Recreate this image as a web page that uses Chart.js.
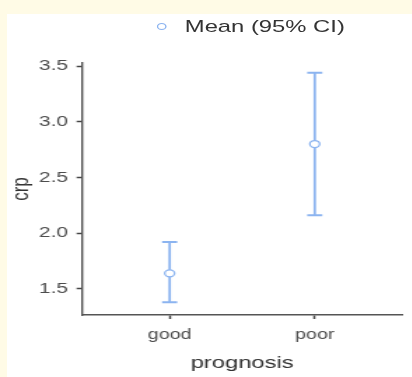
<!DOCTYPE html>
<html>
<head>
<meta charset="utf-8">
<script src="https://cdn.jsdelivr.net/npm/chart.js@4"></script>
<style>
  html, body { margin: 0; padding: 0; background: #fffbe6; }
  #frame { position: absolute; left: 7px; top: 14px; width: 405px; height: 363px; background: #fff; overflow: hidden; }
  /* the source plot is stretched sideways, so draw narrow and widen it */
  #stretch { position: absolute; left: 0; top: 0; width: 289px; height: 363px; transform: scaleX(1.4); transform-origin: 0 0; }
  #legend { position: absolute; left: 107px; top: 3px; font: 17px 'Liberation Sans', Arial, sans-serif; color: #333; white-space: nowrap; }
  #legend .dot { display: inline-block; width: 5px; height: 5px; border: 1.3px solid #8cb4f0; border-radius: 50%; margin-right: 13px; vertical-align: 2px; }
</style>
</head>
<body>
<div id="frame">
  <div id="stretch">
    <canvas id="chart" width="289" height="363"></canvas>
    <div id="legend"><span class="dot"></span>Mean (95% CI)</div>
  </div>
</div>
<script>
const categories = ['good', 'poor'];
const means = [1.64, 2.80];
const lower = [1.38, 2.16];
const upper = [1.92, 3.44];
const yTicks = [1.5, 2.0, 2.5, 3.0, 3.5];

const barColor = '#8cb4f0';
const font = "'Liberation Sans', Arial, sans-serif";

// whiskers drawn under the mean points
const errorBars = {
  id: 'errorBars',
  beforeDatasetsDraw(chart) {
    const { ctx, scales: { x, y } } = chart;
    ctx.save();
    ctx.strokeStyle = barColor;
    categories.forEach((c, i) => {
      const px = x.getPixelForValue(i);
      const top = y.getPixelForValue(upper[i]);
      const bot = y.getPixelForValue(lower[i]);
      ctx.lineWidth = 1.8;
      ctx.beginPath();
      ctx.moveTo(px, top);
      ctx.lineTo(px, bot);
      ctx.stroke();
      ctx.lineWidth = 2;
      ctx.beginPath();
      ctx.moveTo(px - 5.4, top);
      ctx.lineTo(px + 5.4, top);
      ctx.moveTo(px - 5.4, bot);
      ctx.lineTo(px + 5.4, bot);
      ctx.stroke();
    });
    ctx.restore();
  }
};

new Chart(document.getElementById('chart'), {
  type: 'scatter',
  data: {
    datasets: [{
      label: 'Mean (95% CI)',
      data: means.map((m, i) => ({ x: i, y: m })),
      pointRadius: 3.5,
      pointBorderWidth: 1.3,
      pointBackgroundColor: '#fff',
      pointBorderColor: barColor
    }]
  },
  options: {
    responsive: false,
    animation: false,
    devicePixelRatio: 1,
    layout: { padding: { top: 49, right: 7, left: 0, bottom: 0 } },
    plugins: {
      legend: { display: false },
      tooltip: { enabled: false }
    },
    scales: {
      x: {
        type: 'linear',
        min: -0.6,
        max: 1.6,
        afterBuildTicks: s => { s.ticks = categories.map((c, i) => ({ value: i })); },
        afterFit: s => { s.height = 62; },
        ticks: {
          callback: v => categories[v],
          color: '#4d4d4d',
          font: { family: font, size: 14 },
          padding: 8,
          maxRotation: 0
        },
        grid: { drawOnChartArea: false, tickLength: 4, color: '#444', tickWidth: 1.5 },
        border: { color: '#555', width: 1.5 },
        title: { display: true, text: 'prognosis', color: '#333', font: { family: font, size: 17 }, padding: { top: 3, bottom: 3 } }
      },
      y: {
        min: 1.266,
        max: 3.527,
        afterBuildTicks: s => { s.ticks = yTicks.map(v => ({ value: v })); },
        afterFit: s => { s.width = 54; },
        ticks: {
          callback: v => v.toFixed(1),
          color: '#4d4d4d',
          font: { family: font, size: 15 },
          padding: 6
        },
        grid: { drawOnChartArea: false, tickLength: 4.3, color: '#444', tickWidth: 1.5 },
        border: { color: '#555', width: 1.4 },
        title: { display: true, text: 'crp', color: '#333', font: { family: font, size: 17, lineHeight: 1 }, padding: { top: 2, bottom: 0 } }
      }
    }
  },
  plugins: [errorBars]
});
</script>
</body>
</html>
